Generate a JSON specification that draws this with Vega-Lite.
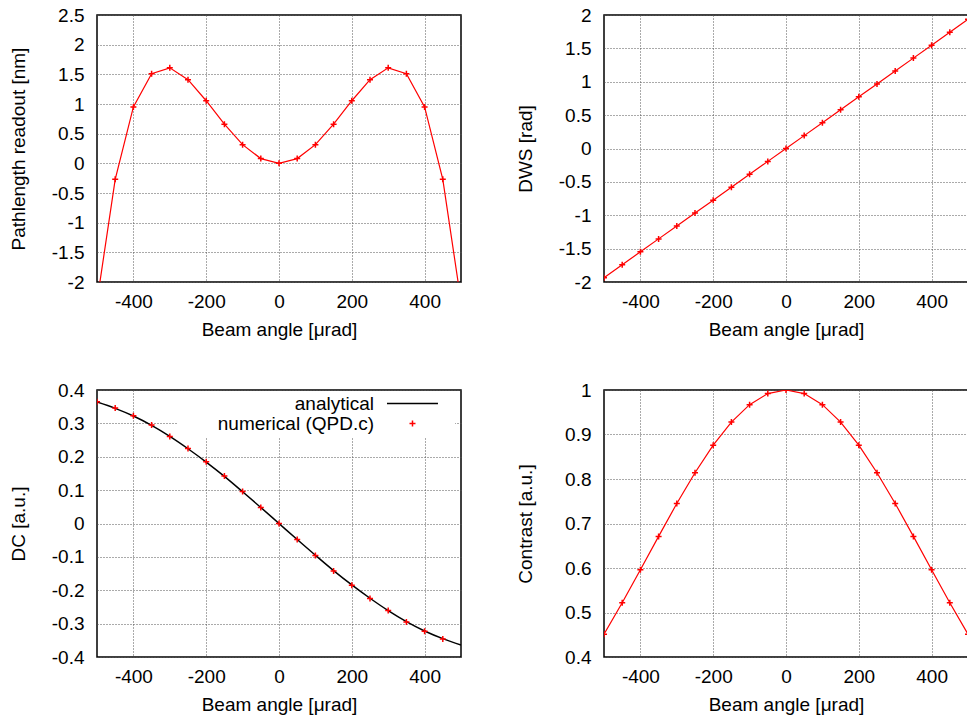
{
  "$schema": "https://vega.github.io/schema/vega-lite/v6.json",
  "background": "white",
  "padding": {"left": 8, "top": 5, "right": 0, "bottom": 0},
  "config": {
    "font": "Liberation Sans",
    "view": {"stroke": "black", "strokeWidth": 1.5},
    "axis": {
      "labelFont": "Liberation Sans", "labelFontSize": 19, "labelColor": "black",
      "titleFont": "Liberation Sans", "titleFontSize": 19, "titleFontWeight": "normal", "titleColor": "black",
      "ticks": false, "domain": false, "grid": true, "gridColor": "#555555", "gridDash": [1, 2], "gridWidth": 1, "gridOpacity": 1,
      "labelExpr": "'' + datum.value"
    },
    "axisX": {"labelPadding": 10, "titlePadding": 9},
    "axisY": {"labelPadding": 13, "titleX": -79, "titleBaseline": "middle"},
    "legend": {
      "orient": "none", "legendX": 80, "legendY": 1, "title": null,
      "labelAlign": "right", "labelOffset": 175,
      "labelFont": "Liberation Sans", "labelFontSize": 19, "labelColor": "black",
      "fillColor": "white", "padding": 3, "rowPadding": 0, "symbolStrokeWidth": 1.5, "symbolOpacity": 1
    }
  },
  "datasets": {
    "pathlength": [
      {"angle": -500, "value": -2.33}, {"angle": -450, "value": -0.27}, {"angle": -400, "value": 0.95},
      {"angle": -350, "value": 1.51}, {"angle": -300, "value": 1.61}, {"angle": -250, "value": 1.41},
      {"angle": -200, "value": 1.055}, {"angle": -150, "value": 0.66}, {"angle": -100, "value": 0.315},
      {"angle": -50, "value": 0.08}, {"angle": 0, "value": 0}, {"angle": 50, "value": 0.08},
      {"angle": 100, "value": 0.315}, {"angle": 150, "value": 0.66}, {"angle": 200, "value": 1.055},
      {"angle": 250, "value": 1.41}, {"angle": 300, "value": 1.61}, {"angle": 350, "value": 1.51},
      {"angle": 400, "value": 0.95}, {"angle": 450, "value": -0.27}, {"angle": 500, "value": -2.33}
    ],
    "dws": [
      {"angle": -500, "value": -1.935}, {"angle": -450, "value": -1.741}, {"angle": -400, "value": -1.548},
      {"angle": -350, "value": -1.354}, {"angle": -300, "value": -1.161}, {"angle": -250, "value": -0.967},
      {"angle": -200, "value": -0.774}, {"angle": -150, "value": -0.58}, {"angle": -100, "value": -0.387},
      {"angle": -50, "value": -0.193}, {"angle": 0, "value": 0}, {"angle": 50, "value": 0.193},
      {"angle": 100, "value": 0.387}, {"angle": 150, "value": 0.58}, {"angle": 200, "value": 0.774},
      {"angle": 250, "value": 0.967}, {"angle": 300, "value": 1.161}, {"angle": 350, "value": 1.354},
      {"angle": 400, "value": 1.548}, {"angle": 450, "value": 1.741}, {"angle": 500, "value": 1.935}
    ],
    "dc": [
      {"angle": -500, "value": 0.364, "series": "analytical"}, {"angle": -450, "value": 0.345, "series": "analytical"},
      {"angle": -400, "value": 0.322, "series": "analytical"}, {"angle": -350, "value": 0.294, "series": "analytical"},
      {"angle": -300, "value": 0.261, "series": "analytical"}, {"angle": -250, "value": 0.224, "series": "analytical"},
      {"angle": -200, "value": 0.184, "series": "analytical"}, {"angle": -150, "value": 0.141, "series": "analytical"},
      {"angle": -100, "value": 0.095, "series": "analytical"}, {"angle": -50, "value": 0.048, "series": "analytical"},
      {"angle": 0, "value": 0, "series": "analytical"}, {"angle": 50, "value": -0.048, "series": "analytical"},
      {"angle": 100, "value": -0.095, "series": "analytical"}, {"angle": 150, "value": -0.141, "series": "analytical"},
      {"angle": 200, "value": -0.184, "series": "analytical"}, {"angle": 250, "value": -0.224, "series": "analytical"},
      {"angle": 300, "value": -0.261, "series": "analytical"}, {"angle": 350, "value": -0.294, "series": "analytical"},
      {"angle": 400, "value": -0.322, "series": "analytical"}, {"angle": 450, "value": -0.345, "series": "analytical"},
      {"angle": 500, "value": -0.364, "series": "analytical"},
      {"angle": -500, "value": 0.365, "series": "numerical (QPD.c)"}, {"angle": -450, "value": 0.346, "series": "numerical (QPD.c)"},
      {"angle": -400, "value": 0.323, "series": "numerical (QPD.c)"}, {"angle": -350, "value": 0.295, "series": "numerical (QPD.c)"},
      {"angle": -300, "value": 0.261, "series": "numerical (QPD.c)"}, {"angle": -250, "value": 0.225, "series": "numerical (QPD.c)"},
      {"angle": -200, "value": 0.185, "series": "numerical (QPD.c)"}, {"angle": -150, "value": 0.142, "series": "numerical (QPD.c)"},
      {"angle": -100, "value": 0.096, "series": "numerical (QPD.c)"}, {"angle": -50, "value": 0.048, "series": "numerical (QPD.c)"},
      {"angle": 0, "value": 0, "series": "numerical (QPD.c)"}, {"angle": 50, "value": -0.048, "series": "numerical (QPD.c)"},
      {"angle": 100, "value": -0.096, "series": "numerical (QPD.c)"}, {"angle": 150, "value": -0.142, "series": "numerical (QPD.c)"},
      {"angle": 200, "value": -0.185, "series": "numerical (QPD.c)"}, {"angle": 250, "value": -0.225, "series": "numerical (QPD.c)"},
      {"angle": 300, "value": -0.261, "series": "numerical (QPD.c)"}, {"angle": 350, "value": -0.295, "series": "numerical (QPD.c)"},
      {"angle": 400, "value": -0.323, "series": "numerical (QPD.c)"}, {"angle": 450, "value": -0.346, "series": "numerical (QPD.c)"}
    ],
    "contrast": [
      {"angle": -500, "value": 0.451}, {"angle": -450, "value": 0.522}, {"angle": -400, "value": 0.596},
      {"angle": -350, "value": 0.671}, {"angle": -300, "value": 0.745}, {"angle": -250, "value": 0.814},
      {"angle": -200, "value": 0.876}, {"angle": -150, "value": 0.928}, {"angle": -100, "value": 0.967},
      {"angle": -50, "value": 0.992}, {"angle": 0, "value": 1.0}, {"angle": 50, "value": 0.992},
      {"angle": 100, "value": 0.967}, {"angle": 150, "value": 0.928}, {"angle": 200, "value": 0.876},
      {"angle": 250, "value": 0.814}, {"angle": 300, "value": 0.745}, {"angle": 350, "value": 0.671},
      {"angle": 400, "value": 0.596}, {"angle": 450, "value": 0.522}, {"angle": 500, "value": 0.451}
    ]
  },
  "spacing": 40,
  "resolve": {
    "scale": {"color": "independent", "shape": "independent", "size": "independent"},
    "legend": {"color": "independent", "shape": "independent", "size": "independent"}
  },
  "vconcat": [
    {
      "spacing": 53,
      "hconcat": [
        {
          "width": 364, "height": 267,
          "data": {"name": "pathlength"},
          "encoding": {
            "x": {"field": "angle", "type": "quantitative", "scale": {"domain": [-500, 500], "nice": false, "zero": false},
                  "axis": {"values": [-400, -200, 0, 200, 400], "title": "Beam angle [μrad]"}},
            "y": {"field": "value", "type": "quantitative", "scale": {"domain": [-2, 2.5], "nice": false, "zero": false},
                  "axis": {"values": [-2, -1.5, -1, -0.5, 0, 0.5, 1, 1.5, 2, 2.5], "title": "Pathlength readout [nm]"}}
          },
          "layer": [
            {"mark": {"type": "line", "color": "red", "strokeWidth": 1.2, "clip": true}},
            {"mark": {"type": "point", "shape": "M-1,0L1,0M0,-1L0,1", "size": 36, "filled": false, "color": "red", "strokeWidth": 1.5, "opacity": 1, "clip": true}}
          ]
        },
        {
          "width": 364, "height": 267,
          "data": {"name": "dws"},
          "encoding": {
            "x": {"field": "angle", "type": "quantitative", "scale": {"domain": [-500, 500], "nice": false, "zero": false},
                  "axis": {"values": [-400, -200, 0, 200, 400], "title": "Beam angle [μrad]"}},
            "y": {"field": "value", "type": "quantitative", "scale": {"domain": [-2, 2], "nice": false, "zero": false},
                  "axis": {"values": [-2, -1.5, -1, -0.5, 0, 0.5, 1, 1.5, 2], "title": "DWS [rad]"}}
          },
          "layer": [
            {"mark": {"type": "line", "color": "red", "strokeWidth": 1.2, "clip": true}},
            {"mark": {"type": "point", "shape": "M-1,0L1,0M0,-1L0,1", "size": 36, "filled": false, "color": "red", "strokeWidth": 1.5, "opacity": 1, "clip": true}}
          ]
        }
      ]
    },
    {
      "spacing": 53,
      "resolve": {
        "scale": {"color": "independent", "shape": "independent", "size": "independent"},
        "legend": {"color": "independent", "shape": "independent", "size": "independent"}
      },
      "hconcat": [
        {
          "width": 364, "height": 267,
          "data": {"name": "dc"},
          "encoding": {
            "x": {"field": "angle", "type": "quantitative", "scale": {"domain": [-500, 500], "nice": false, "zero": false},
                  "axis": {"values": [-400, -200, 0, 200, 400], "title": "Beam angle [μrad]"}},
            "y": {"field": "value", "type": "quantitative", "scale": {"domain": [-0.4, 0.4], "nice": false, "zero": false},
                  "axis": {"values": [-0.4, -0.3, -0.2, -0.1, 0, 0.1, 0.2, 0.3, 0.4], "title": "DC [a.u.]"}}
          },
          "layer": [
            {
              "transform": [{"filter": "datum.series == 'analytical'"}],
              "mark": {"type": "line", "strokeWidth": 1.5, "interpolate": "monotone", "clip": true},
              "encoding": {
                "color": {"field": "series", "type": "nominal",
                          "scale": {"domain": ["analytical", "numerical (QPD.c)"], "range": ["black", "red"]}}
              }
            },
            {
              "transform": [{"filter": "datum.series != 'analytical'"}],
              "mark": {"type": "point", "shape": "M-1,0L1,0M0,-1L0,1", "size": 36, "filled": false, "strokeWidth": 1.5, "opacity": 1, "clip": true},
              "encoding": {
                "color": {"field": "series", "type": "nominal",
                          "scale": {"domain": ["analytical", "numerical (QPD.c)"], "range": ["black", "red"]}}
              }
            },
            {
              "transform": [{"filter": "false"}],
              "mark": {"type": "point", "filled": false, "strokeWidth": 1.5, "opacity": 1, "clip": true},
              "encoding": {
                "color": {"field": "series", "type": "nominal",
                          "scale": {"domain": ["analytical", "numerical (QPD.c)"], "range": ["black", "red"]}},
                "shape": {"field": "series", "type": "nominal",
                          "scale": {"domain": ["analytical", "numerical (QPD.c)"], "range": ["M38.73,0L48.73,0M50.7,0", "M73.33,0L75.33,0M74.33,-1L74.33,1"]}},
                "size": {"field": "series", "type": "nominal",
                         "scale": {"domain": ["analytical", "numerical (QPD.c)"], "range": [104, 36]}}
              }
            }
          ]
        },
        {
          "width": 364, "height": 267,
          "data": {"name": "contrast"},
          "encoding": {
            "x": {"field": "angle", "type": "quantitative", "scale": {"domain": [-500, 500], "nice": false, "zero": false},
                  "axis": {"values": [-400, -200, 0, 200, 400], "title": "Beam angle [μrad]"}},
            "y": {"field": "value", "type": "quantitative", "scale": {"domain": [0.4, 1], "nice": false, "zero": false},
                  "axis": {"values": [0.4, 0.5, 0.6, 0.7, 0.8, 0.9, 1], "title": "Contrast [a.u.]"}}
          },
          "layer": [
            {"mark": {"type": "line", "color": "red", "strokeWidth": 1.2, "clip": true}},
            {"mark": {"type": "point", "shape": "M-1,0L1,0M0,-1L0,1", "size": 36, "filled": false, "color": "red", "strokeWidth": 1.5, "opacity": 1, "clip": true}}
          ]
        }
      ]
    }
  ]
}
